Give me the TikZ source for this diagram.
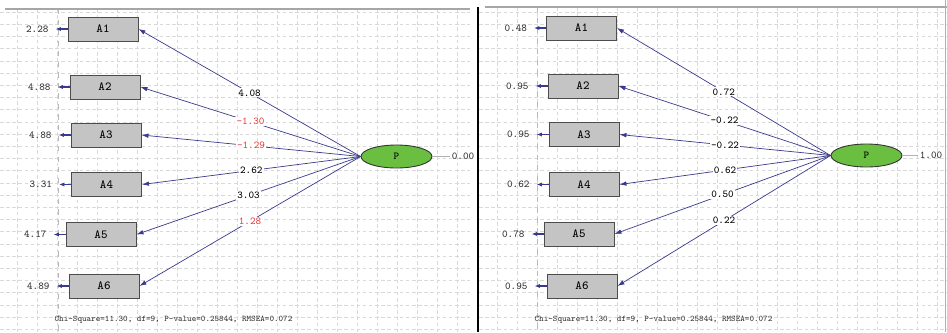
\documentclass[tikz,border=0pt]{standalone}
\usetikzlibrary{arrows.meta,positioning,shapes.geometric}
\definecolor{pathblue}{RGB}{58,58,140}
\definecolor{factgreen}{RGB}{106,190,64}
\definecolor{boxgray}{RGB}{196,196,196}
\definecolor{negred}{RGB}{236,62,62}

\begin{document}
\begin{tikzpicture}[
x=0.02cm, y=-0.02cm,
    X/.style = {rectangle, draw=black!70, fill=boxgray,% styles of observed boxes
                minimum width=1.4cm, minimum height=0.48cm,
                inner sep=0pt, line width=0.5pt,
                font=\ttfamily\fontsize{7}{8}\selectfont},
    Y/.style = {ellipse, draw=black!80, fill=factgreen,% style of the factor
                minimum width=1.42cm, minimum height=0.46cm,
                inner sep=0pt, line width=0.5pt,
                font=\ttfamily\fontsize{6}{7}\selectfont},
    E/.style = {inner sep=1pt, text=black!80, font=\ttfamily\fontsize{6}{7}\selectfont},
    L/.style = {fill=white, inner sep=0.6pt, font=\ttfamily\fontsize{6}{7}\selectfont},
    P/.style = {draw=pathblue, line width=0.4pt, -{Latex[length=4pt,width=2.6pt]}},
    R/.style = {draw=pathblue, line width=0.9pt, -{Latex[length=3pt,width=2.4pt]}},
    G/.style = {gray!30, line width=0.3pt, dash pattern=on 2pt off 1.5pt},
    C/.style = {text=black!80, font=\ttfamily\fontsize{4.9}{6}\selectfont},
                        ]
\useasboundingbox (0,0) rectangle (947,332);
% grids
\foreach \x in {17,37,...,457}
    \draw[G] (\x,9) -- (\x,332);
\foreach \x in {497,517,...,937}
    \draw[G] (\x,7) -- (\x,332);
\foreach \i in {0,...,26} {
    \draw[G] (0,{12+12.2*\i}) -- (470,{12+12.2*\i});
    \draw[G] (479,{12+12.2*\i}) -- (947,{12+12.2*\i});
}
\draw[gray!55, line width=0.5pt, dashed] (58,9) -- (58,332);
\draw[gray!55, line width=0.5pt, dashed] (537,7) -- (537,332);
\draw[gray!70, line width=0.6pt] (5,9) -- (470,9);
\draw[gray!70, line width=0.6pt] (485,7) -- (947,7);
\draw[black, line width=0.8pt] (478,7) -- (478,332);
\draw[gray!60, line width=0.5pt] (945.5,0) -- (945.5,332);

% left model
\node[Y] (LP) at (396.5,156.5) {P};
\node[E] (LPV) at (463,156.5) {0.00};
\draw[gray!60, line width=0.4pt] (LP.east) -- (LPV.west);
\foreach \n/\x/\y/\e/\v/\c in {1/103/29/2.28/4.08/black,
                               2/105/87/4.88/-1.30/negred,
                               3/106/135/4.88/-1.29/negred,
                               4/106.5/184.5/3.31/2.62/black,
                               5/101/234.5/4.17/3.03/black,
                               6/104/286/4.89/1.28/negred} {
    \node[X] (LA\n) at (\x,\y) {A\n};
    \coordinate[left=0.24cm of LA\n.west] (LE\n);
    \draw[R] (LA\n.west) -- (LE\n);
    \node[E, left=0.1cm of LE\n] (LV\n) {\e};
    \draw[P] (LP.west) -- node[L, text=\c] (LL\n) {\v} (LA\n.east);
}
\node[C] (LC) at (173.5,320) {Chi-Square=11.30, df=9, P-value=0.25844, RMSEA=0.072};

% right model
\node[Y] (RP) at (866.5,155.5) {P};
\node[E] (RPV) at (931,155.5) {1.00};
\draw[gray!60, line width=0.4pt] (RP.east) -- (RPV.west);
\foreach \n/\x/\y/\e/\v in {1/581.5/28/0.48/0.72,
                            2/583/86/0.95/-0.22,
                            3/584/134.5/0.95/-0.22,
                            4/584/184.5/0.62/0.62,
                            5/579/234/0.78/0.50,
                            6/582/286/0.95/0.22} {
    \node[X] (RA\n) at (\x,\y) {A\n};
    \coordinate[left=0.24cm of RA\n.west] (RE\n);
    \draw[R] (RA\n.west) -- (RE\n);
    \node[E, left=0.1cm of RE\n] (RV\n) {\e};
    \draw[P] (RP.west) -- node[L] (RL\n) {\v} (RA\n.east);
}
\node[C] (RC) at (653.5,320) {Chi-Square=11.30, df=9, P-value=0.25844, RMSEA=0.072};
\end{tikzpicture}
\end{document}
